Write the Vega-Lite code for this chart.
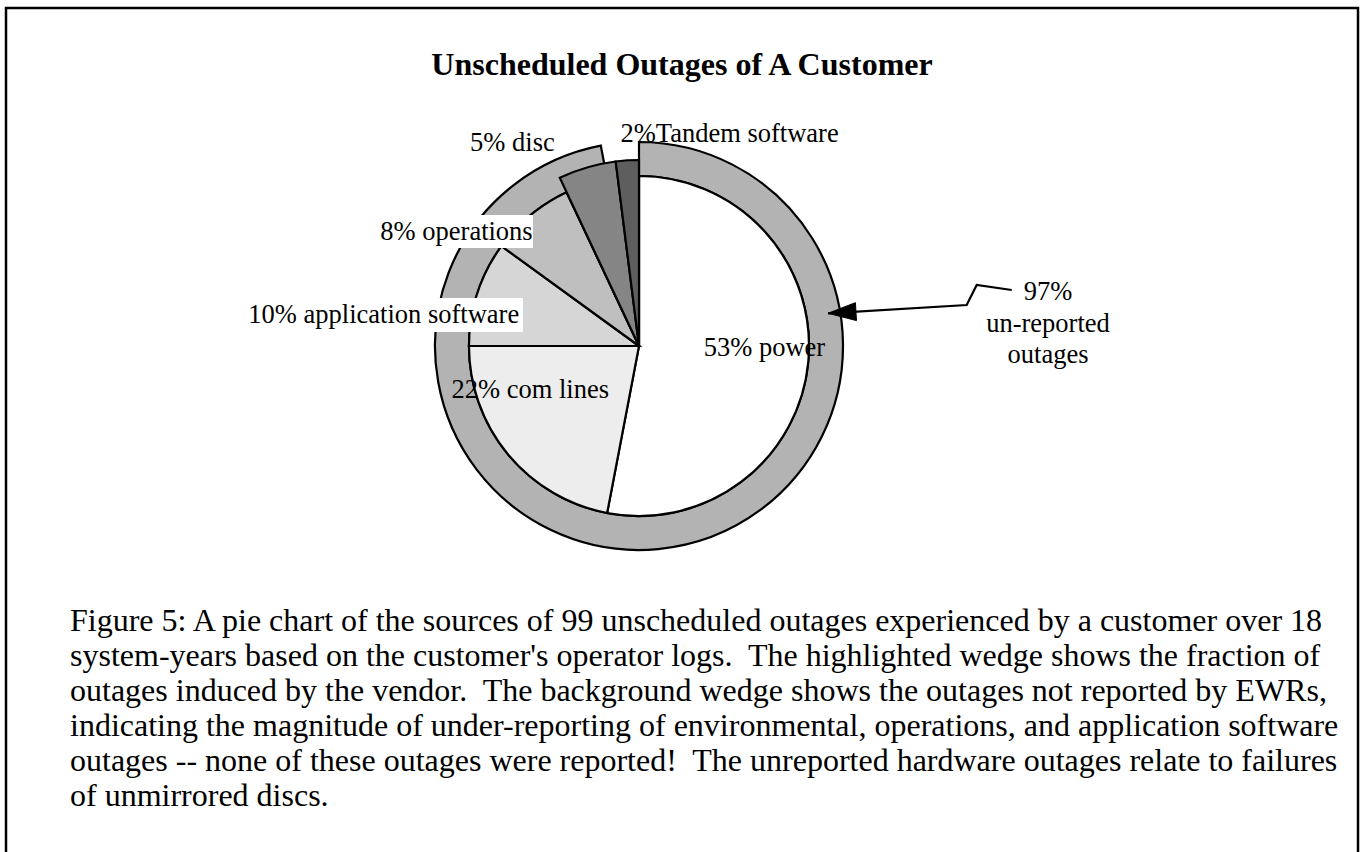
{
  "$schema": "https://vega.github.io/schema/vega-lite/v6.json",
  "width": 1361,
  "height": 852,
  "autosize": {"type": "fit", "contains": "padding"},
  "padding": {"left": 6, "top": 8, "right": 3, "bottom": -12},
  "background": "white",
  "config": {
    "view": {"stroke": "black", "strokeWidth": 2.5},
    "font": "Liberation Serif",
    "text": {"font": "Liberation Serif", "color": "black"}
  },
  "datasets": {
    "wedges": [
      {"cause": "power", "pct": 53, "label": "53% power", "order": 1, "vendor": false},
      {"cause": "com lines", "pct": 22, "label": "22% com lines", "order": 2, "vendor": false},
      {"cause": "application software", "pct": 10, "label": "10% application software", "order": 3, "vendor": false},
      {"cause": "operations", "pct": 8, "label": "8% operations", "order": 4, "vendor": false},
      {"cause": "disc", "pct": 5, "label": "5% disc", "order": 5, "vendor": true},
      {"cause": "Tandem software", "pct": 2, "label": "2%Tandem software", "order": 6, "vendor": true}
    ],
    "ring": [
      {"segment": "un-reported", "pct": 97, "order": 1, "label": ["97%", "un-reported", "outages"]},
      {"segment": "reported", "pct": 3, "order": 2, "label": [""]}
    ],
    "texts": [
      {"title": "Unscheduled Outages of A Customer",
       "caption": [
        "Figure 5: A pie chart of the sources of 99 unscheduled outages experienced by a customer over 18",
        "system-years based on the customer's operator logs.\u00a0 The highlighted wedge shows the fraction of",
        "outages induced by the vendor.\u00a0 The background wedge shows the outages not reported by EWRs,",
        "indicating the magnitude of under-reporting of environmental, operations, and application software",
        "outages -- none of these outages were reported!\u00a0 The unreported hardware outages relate to failures",
        "of unmirrored discs."
       ]}
    ]
  },
  "layer": [
    {
      "data": {"name": "ring"},
      "mark": {"type": "arc", "radius": 204, "radius2": 170, "stroke": "black", "strokeWidth": 2.2, "fill": "#b3b3b3"},
      "encoding": {
        "theta": {"field": "pct", "type": "quantitative", "stack": true, "scale": {"domain": [0, 100]}},
        "order": {"field": "order", "type": "quantitative"},
        "opacity": {"condition": {"test": "datum.segment === 'un-reported'", "value": 1}, "value": 0},
        "x": {"value": 633},
        "y": {"value": 338}
      }
    },
    {
      "data": {"name": "wedges"},
      "mark": {"type": "arc", "radius": 170, "stroke": "black", "strokeWidth": 2.2},
      "encoding": {
        "theta": {"field": "pct", "type": "quantitative", "stack": true, "scale": {"domain": [0, 100]}},
        "order": {"field": "order", "type": "quantitative"},
        "fill": {"field": "cause", "type": "nominal", "legend": null,
          "scale": {"domain": ["power", "com lines", "application software", "operations", "disc", "Tandem software"],
                    "range": ["#ffffff", "#ededed", "#d6d6d6", "#bfbfbf", "#858585", "#5e5e5e"]}},
        "x": {"value": 633},
        "y": {"value": 338}
      }
    },
    {
      "data": {"name": "wedges"},
      "mark": {"type": "arc", "radius": 186, "stroke": "black", "strokeWidth": 2.2},
      "encoding": {
        "theta": {"field": "pct", "type": "quantitative", "stack": true, "scale": {"domain": [0, 100]}},
        "order": {"field": "order", "type": "quantitative"},
        "fill": {"field": "cause", "type": "nominal", "legend": null},
        "opacity": {"condition": {"test": "datum.vendor", "value": 1}, "value": 0},
        "x": {"value": 633},
        "y": {"value": 338}
      }
    },
    {
      "data": {"values": [{"box": "application software label"}]},
      "mark": {"type": "point", "shape": "M-1,-0.1214H1V0.1214H-1Z", "filled": true, "fill": "white", "strokeWidth": 0, "opacity": 1, "size": 78400},
      "encoding": {"x": {"value": 377}, "y": {"value": 307}}
    },
    {
      "data": {"values": [{"box": "operations label"}]},
      "mark": {"type": "point", "shape": "M-1,-0.2157H1V0.2157H-1Z", "filled": true, "fill": "white", "strokeWidth": 0, "opacity": 1, "size": 23409},
      "encoding": {"x": {"value": 450.5}, "y": {"value": 223.5}}
    },
    {
      "data": {"name": "wedges"},
      "mark": {"type": "text", "radius": 125, "dx": 1, "dy": -10, "fontSize": 26.5, "align": "center", "baseline": "middle"},
      "encoding": {
        "theta": {"field": "pct", "type": "quantitative", "stack": true, "scale": {"domain": [0, 100]}},
        "order": {"field": "order", "type": "quantitative"},
        "text": {"condition": {"test": "datum.cause === 'power'", "field": "label"}, "value": ""},
        "x": {"value": 633},
        "y": {"value": 338}
      }
    },
    {
      "data": {"name": "wedges"},
      "mark": {"type": "text", "radius": 110, "dx": -24, "dy": -26, "fontSize": 26.5, "align": "center", "baseline": "middle"},
      "encoding": {
        "theta": {"field": "pct", "type": "quantitative", "stack": true, "scale": {"domain": [0, 100]}},
        "order": {"field": "order", "type": "quantitative"},
        "text": {"condition": {"test": "datum.cause === 'com lines'", "field": "label"}, "value": ""},
        "x": {"value": 633},
        "y": {"value": 338}
      }
    },
    {
      "data": {"name": "wedges"},
      "mark": {"type": "text", "radius": 240, "dx": -27, "dy": 43, "fontSize": 26.5, "align": "center", "baseline": "middle"},
      "encoding": {
        "theta": {"field": "pct", "type": "quantitative", "stack": true, "scale": {"domain": [0, 100]}},
        "order": {"field": "order", "type": "quantitative"},
        "text": {"condition": {"test": "datum.cause === 'application software'", "field": "label"}, "value": ""},
        "x": {"value": 633},
        "y": {"value": 338}
      }
    },
    {
      "data": {"name": "wedges"},
      "mark": {"type": "text", "radius": 200, "dx": -55, "dy": 40, "fontSize": 26.5, "align": "center", "baseline": "middle"},
      "encoding": {
        "theta": {"field": "pct", "type": "quantitative", "stack": true, "scale": {"domain": [0, 100]}},
        "order": {"field": "order", "type": "quantitative"},
        "text": {"condition": {"test": "datum.cause === 'operations'", "field": "label"}, "value": ""},
        "x": {"value": 633},
        "y": {"value": 338}
      }
    },
    {
      "data": {"name": "wedges"},
      "mark": {"type": "text", "radius": 210, "dx": -68, "dy": -1, "fontSize": 26.5, "align": "center", "baseline": "middle"},
      "encoding": {
        "theta": {"field": "pct", "type": "quantitative", "stack": true, "scale": {"domain": [0, 100]}},
        "order": {"field": "order", "type": "quantitative"},
        "text": {"condition": {"test": "datum.cause === 'disc'", "field": "label"}, "value": ""},
        "x": {"value": 633},
        "y": {"value": 338}
      }
    },
    {
      "data": {"name": "wedges"},
      "mark": {"type": "text", "radius": 215, "dx": -5, "dy": 3, "fontSize": 26.5, "align": "left", "baseline": "middle"},
      "encoding": {
        "theta": {"field": "pct", "type": "quantitative", "stack": true, "scale": {"domain": [0, 100]}},
        "order": {"field": "order", "type": "quantitative"},
        "text": {"condition": {"test": "datum.cause === 'Tandem software'", "field": "label"}, "value": ""},
        "x": {"value": 633},
        "y": {"value": 338}
      }
    },
    {
      "data": {"name": "ring"},
      "transform": [{"filter": "datum.segment === 'un-reported'"}],
      "mark": {"type": "text", "fontSize": 26.5, "align": "center", "baseline": "middle", "lineHeight": 31.5},
      "encoding": {
        "text": {"field": "label"},
        "x": {"value": 1042},
        "y": {"value": 284}
      }
    },
    {
      "data": {"values": [{"annotation": "arrow"}]},
      "mark": {"type": "point", "shape": "M-1,0.1541L0.5101,0.0637L0.619,-0.1541L1,-0.0996", "filled": false, "fill": null, "stroke": "black", "strokeWidth": 2.2, "opacity": 1, "size": 33746},
      "encoding": {"x": {"value": 913.85}, "y": {"value": 291.15}}
    },
    {
      "data": {"values": [{"annotation": "arrowhead"}]},
      "mark": {"type": "point", "shape": "M-1,0.1541L-0.6898,0.2336L-0.7016,0.0381Z", "filled": true, "fill": "black", "stroke": "black", "strokeWidth": 1, "opacity": 1, "size": 33746},
      "encoding": {"x": {"value": 913.85}, "y": {"value": 291.15}}
    },
    {
      "data": {"name": "texts"},
      "mark": {"type": "text", "fontSize": 32, "fontWeight": "bold", "align": "center", "baseline": "middle"},
      "encoding": {
        "text": {"field": "title"},
        "x": {"value": 676},
        "y": {"value": 57}
      }
    },
    {
      "data": {"name": "texts"},
      "mark": {"type": "text", "fontSize": 32, "align": "left", "baseline": "alphabetic", "lineHeight": 35},
      "encoding": {
        "text": {"field": "caption"},
        "x": {"value": 64},
        "y": {"value": 623}
      }
    }
  ]
}
